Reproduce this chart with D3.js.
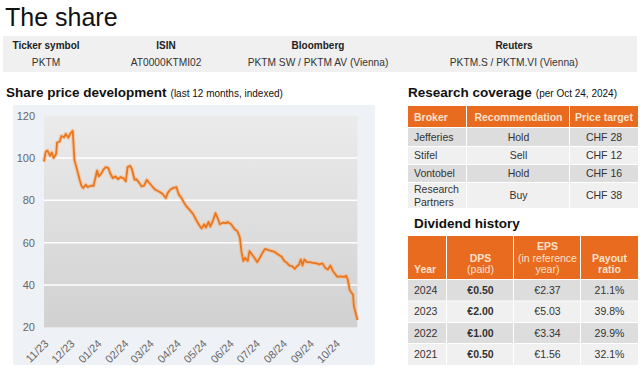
<!DOCTYPE html>
<html>
<head>
<meta charset="utf-8">
<script src="https://cdn.jsdelivr.net/npm/d3@7"></script>
<style>
body { margin: 0; background: #fff; }
svg { display: block; font-family: "Liberation Sans", Arial, sans-serif; }
</style>
</head>
<body>
<div id="page"></div>
<script>
// share info
var infoHeaders = ["Ticker symbol", "ISIN", "Bloomberg", "Reuters"];
var infoValues = ["PKTM", "AT0000KTMI02", "PKTM SW / PKTM AV (Vienna)", "PKTM.S / PKTM.VI (Vienna)"];

// share price, indexed
var priceDates = ["2023-10-30","2023-11-01","2023-11-03","2023-11-06","2023-11-08","2023-11-10","2023-11-13","2023-11-14","2023-11-17","2023-11-19","2023-11-22","2023-11-24","2023-11-27","2023-11-29",
  "2023-12-02","2023-12-04","2023-12-07","2023-12-10","2023-12-12","2023-12-14","2023-12-17","2023-12-19","2023-12-23","2023-12-26","2023-12-30",
  "2024-01-01","2024-01-04","2024-01-06","2024-01-09","2024-01-12","2024-01-14","2024-01-17","2024-01-20","2024-01-23","2024-01-26","2024-01-29",
  "2024-02-01","2024-02-03","2024-02-06","2024-02-08","2024-02-11","2024-02-13","2024-02-16","2024-02-19","2024-02-22","2024-02-25","2024-02-28",
  "2024-03-03","2024-03-06","2024-03-10","2024-03-14","2024-03-18","2024-03-20","2024-03-23","2024-03-26","2024-03-30",
  "2024-04-02","2024-04-05","2024-04-07","2024-04-10","2024-04-14","2024-04-18","2024-04-22","2024-04-25","2024-04-28",
  "2024-05-01","2024-05-03","2024-05-06","2024-05-08","2024-05-11","2024-05-14","2024-05-17","2024-05-19","2024-05-23","2024-05-26","2024-05-28",
  "2024-06-01","2024-06-05","2024-06-08","2024-06-11","2024-06-13","2024-06-15","2024-06-17","2024-06-20","2024-06-22","2024-06-25","2024-06-29",
  "2024-07-01","2024-07-04","2024-07-07","2024-07-10","2024-07-14","2024-07-18","2024-07-21","2024-07-25","2024-07-29",
  "2024-08-01","2024-08-04","2024-08-07","2024-08-10","2024-08-13","2024-08-15","2024-08-18","2024-08-20","2024-08-22","2024-08-24","2024-08-27","2024-08-30",
  "2024-09-03","2024-09-07","2024-09-10","2024-09-14","2024-09-17","2024-09-20","2024-09-23","2024-09-26","2024-09-29",
  "2024-10-01","2024-10-05","2024-10-09","2024-10-11","2024-10-13","2024-10-15","2024-10-17","2024-10-19","2024-10-20","2024-10-24"];
var priceValues = [98.3,103,103.5,101,102.6,100,102,107.3,107.8,110.4,109.8,111.4,109.6,111.4,
  112.8,99,94.4,89.7,86.9,85.8,87.4,86.3,86.9,86.9,94.1,
  91.3,92.8,94.4,95.7,95.2,92.8,90.5,91.3,90,91,90.5,
  89,95.7,96.3,94.7,89.7,90,88.5,86.6,86.9,89.7,88.2,
  86.3,85,84.2,83.1,81.1,83.4,85,85.8,86.3,
  82.6,81.1,79.5,77.5,75.6,73.7,70.6,68.5,66.7,
  68.7,67.1,69.8,67.6,70.3,74,71.1,68.7,69.5,69.2,69.8,
  68.7,66.3,65.5,62.4,55.2,51.3,52.9,51.3,56,54.4,52,
  50.8,52.9,55.2,57.1,56.5,56,55.6,54.4,53.3,
  51.3,50.5,49.2,48.9,47.6,48.6,49.7,52.1,49.2,52.1,50.8,50.8,
  50.5,50.2,49.7,50.2,48.1,47.3,49.2,46.5,44.9,
  43.8,44.1,43.8,44.4,42.5,37.8,36.5,35.4,29.8,23.5];
var yTicks = [20, 40, 60, 80, 100, 120];

// research coverage
var researchHeaders = ["Broker", "Recommendation", "Price target"];
var brokers = [["Jefferies"], ["Stifel"], ["Vontobel"], ["Research", "Partners"]];
var recommendations = ["Hold", "Sell", "Hold", "Buy"];
var priceTargets = ["CHF 28", "CHF 12", "CHF 16", "CHF 38"];

// dividend history
var dividendHeaders = [["Year"], ["DPS", "(paid)"], ["EPS", "(in reference", "year)"], ["Payout", "ratio"]];
var years = ["2024", "2023", "2022", "2021"];
var dps = ["€0.50", "€2.00", "€1.00", "€0.50"];
var eps = ["€2.37", "€5.03", "€3.34", "€1.56"];
var payout = ["21.1%", "39.8%", "29.9%", "32.1%"];

var orange = "#e86b1f", headText = "#fde2cc", dark = "#222", rowDark = "#dddddd", rowLight = "#f0f0f0";

var svg = d3.select("#page").append("svg")
  .attr("width", 640)
  .attr("height", 376);

// title
svg.append("text")
  .attr("x", 5).attr("y", 26)
  .attr("font-size", 25).attr("fill", "#111")
  .text("The share");

// info band
svg.append("rect")
  .attr("x", 3).attr("y", 36).attr("width", 634).attr("height", 36)
  .attr("fill", "#f0f0f0");
var infoX = [46, 166, 318, 514];
svg.selectAll(".infoHead").data(infoHeaders).enter().append("text")
  .attr("x", function(d, i) { return infoX[i]; })
  .attr("y", 49)
  .attr("text-anchor", "middle")
  .attr("font-size", 10).attr("font-weight", "bold").attr("fill", dark)
  .text(function(d) { return d; });
svg.selectAll(".infoVal").data(infoValues).enter().append("text")
  .attr("x", function(d, i) { return infoX[i]; })
  .attr("y", 66)
  .attr("text-anchor", "middle")
  .attr("font-size", 10.2).attr("fill", "#333")
  .text(function(d) { return d; });

// section headings
function heading(x, y, main, sub) {
  var t = svg.append("text").attr("x", x).attr("y", y).attr("fill", "#111");
  t.append("tspan").attr("font-size", 13.5).attr("font-weight", "bold").text(main);
  if (sub) t.append("tspan").attr("font-size", 10).attr("dx", 4).text(sub);
}
heading(6, 97, "Share price development", "(last 12 months, indexed)");
heading(408, 97, "Research coverage", "(per Oct 24, 2024)");
heading(414, 228, "Dividend history");

// ---- line chart ----
var parseDate = d3.timeParse("%Y-%m-%d");
var prices = priceDates.map(function(d, i) { return { date: parseDate(d), value: priceValues[i] }; });

var plotLeft = 44, plotRight = 357.4, plotTop = 115.7, plotBottom = 327.3;

svg.append("rect")
  .attr("x", 13).attr("y", 105).attr("width", 362).attr("height", 260)
  .attr("rx", 2)
  .attr("fill", "#eef1f5");

var defs = svg.append("defs");
var grad = defs.append("linearGradient").attr("id", "plotBg")
  .attr("x1", 0).attr("y1", 0).attr("x2", 0).attr("y2", 1);
grad.append("stop").attr("offset", "0%").attr("stop-color", "#ebebeb");
grad.append("stop").attr("offset", "100%").attr("stop-color", "#d1d1d1");

svg.append("rect")
  .attr("x", plotLeft).attr("y", plotTop)
  .attr("width", plotRight - plotLeft).attr("height", plotBottom - plotTop)
  .attr("fill", "url(#plotBg)");

var xScale = d3.scaleTime()
  .domain([parseDate("2023-10-30"), parseDate("2024-10-24")])
  .range([plotLeft, plotRight]);

var yScale = d3.scaleLinear()
  .domain([20, 120])
  .range([plotBottom, plotTop]);

// grid lines
svg.append("g")
  .selectAll("line")
  .data(yTicks.slice(1, -1))
  .enter()
  .append("line")
  .attr("x1", plotLeft).attr("x2", plotRight)
  .attr("y1", function(d) { return yScale(d); })
  .attr("y2", function(d) { return yScale(d); })
  .attr("stroke", "#fff").attr("stroke-width", 1.5);

// Y axis
var yAxis = d3.axisLeft(yScale).tickValues(yTicks).tickSize(0).tickPadding(0);
var gy = svg.append("g")
  .attr("transform", "translate(" + (plotLeft - 9) + ",0)")
  .call(yAxis);
gy.select(".domain").remove();
gy.selectAll("text")
  .attr("font-family", "Liberation Sans, Arial, sans-serif")
  .attr("font-size", 11).attr("fill", "#666");

// X axis
var xAxis = d3.axisBottom(xScale)
  .ticks(d3.timeMonth.every(1))
  .tickFormat(d3.timeFormat("%m/%y"))
  .tickSize(0);
var gx = svg.append("g")
  .attr("transform", "translate(0," + plotBottom + ")")
  .call(xAxis);
gx.select(".domain").remove();
gx.selectAll("text")
  .attr("font-family", "Liberation Sans, Arial, sans-serif")
  .attr("font-size", 11).attr("fill", "#666")
  .attr("text-anchor", "end")
  .attr("dy", null).attr("y", null)
  .attr("transform", "translate(3,17) rotate(-45)");

// price line
var line = d3.line()
  .x(function(d) { return xScale(d.date); })
  .y(function(d) { return yScale(d.value); });

svg.append("path")
  .datum(prices)
  .attr("d", line)
  .attr("fill", "none")
  .attr("stroke", "#f6b27c").attr("stroke-width", 4).attr("stroke-opacity", 0.55)
  .attr("stroke-linejoin", "round");
svg.append("path")
  .datum(prices)
  .attr("d", line)
  .attr("fill", "none")
  .attr("stroke", "#e8771f").attr("stroke-width", 1.8)
  .attr("stroke-linejoin", "round");

// ---- tables ----
function drawTable(colEdges, headTop, headBottom, headLines, headLineYs, rowTops, rows, boldCol) {
  var g = svg.append("g");
  var lastCol = colEdges.length - 2;
  // header cells
  colEdges.slice(0, -1).forEach(function(x0, c) {
    var x1 = colEdges[c + 1];
    g.append("rect")
      .attr("x", x0).attr("y", headTop).attr("width", x1 - x0 - (c < lastCol ? 1 : 0))
      .attr("height", headBottom - headTop).attr("fill", orange);
    var lines = headLines[c];
    var ys = headLineYs.slice(headLineYs.length - lines.length);
    lines.forEach(function(txt, k) {
      var isBold = k === 0 || c === 3;
      g.append("text")
        .attr("x", c === 0 ? x0 + 6 : (x0 + x1) / 2)
        .attr("y", ys[k])
        .attr("text-anchor", c === 0 ? "start" : "middle")
        .attr("font-size", 10.5)
        .attr("font-weight", isBold ? "bold" : "normal")
        .attr("fill", headText)
        .text(txt);
    });
  });
  // body rows
  rows.forEach(function(row, r) {
    var y0 = rowTops[r], y1 = rowTops[r + 1];
    colEdges.slice(0, -1).forEach(function(x0, c) {
      var x1 = colEdges[c + 1];
      g.append("rect")
        .attr("x", x0).attr("y", y0 + 1).attr("width", x1 - x0 - (c < lastCol ? 1 : 0))
        .attr("height", y1 - y0 - 1)
        .attr("fill", r % 2 === 0 ? rowDark : rowLight);
      var cell = [].concat(row[c]);
      var mid = (y0 + y1) / 2;
      cell.forEach(function(txt, k) {
        g.append("text")
          .attr("x", c === 0 ? x0 + 6 : (x0 + x1) / 2)
          .attr("y", mid + 4 + (k - (cell.length - 1) / 2) * 13)
          .attr("text-anchor", c === 0 ? "start" : "middle")
          .attr("font-size", 10.5)
          .attr("font-weight", c === boldCol ? "bold" : "normal")
          .attr("fill", "#333")
          .text(txt);
      });
    });
  });
}

var researchRows = brokers.map(function(b, i) { return [b, recommendations[i], priceTargets[i]]; });
drawTable([408, 467, 570, 638], 106, 127, researchHeaders.map(function(d) { return [d]; }), [120.5],
  [127, 146, 164, 182, 208], researchRows, -1);

var dividendRows = years.map(function(y, i) { return [y, dps[i], eps[i], payout[i]]; });
drawTable([408, 447, 514, 581, 638], 236, 279, dividendHeaders, [249.5, 261.5, 273],
  [279, 300.5, 322, 343, 365], dividendRows, 1);
</script>
</body>
</html>
